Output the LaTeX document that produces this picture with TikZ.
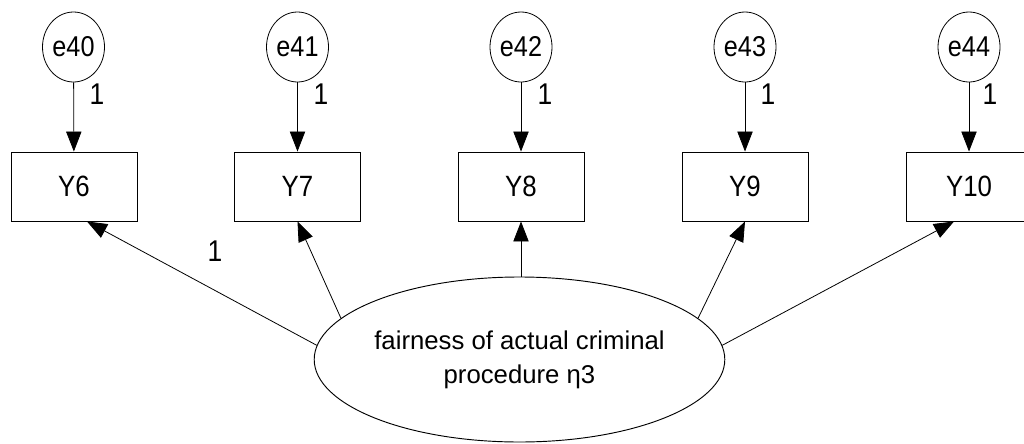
\documentclass[tikz,border=0pt]{standalone}
\usepackage{fontspec}
\setmainfont{Liberation Sans}
\newfontfamily\narrowfont{Liberation Sans}[FakeStretch=0.88]
\usetikzlibrary{shapes.geometric,arrows.meta}
\begin{document}
\begin{tikzpicture}[x=0.75pt,y=-0.75pt,
  obs/.style={draw, line width=0.7pt, minimum width=94.5pt, minimum height=51.75pt, inner sep=0pt, font=\narrowfont\fontsize{22}{24}\selectfont},
  err/.style={draw, ellipse, line width=0.6pt, minimum width=46.5pt, minimum height=52.5pt, inner sep=0pt, font=\narrowfont\fontsize{21.5}{24}\selectfont},
  lat/.style={draw, ellipse, line width=0.7pt, minimum width=300.75pt, minimum height=123.75pt, inner sep=0pt, align=center, font=\fontsize{19.3}{25.5}\selectfont},
  arr/.style={-{Triangle[length=15pt,width=11.5pt]}, line width=0.6pt},
  lab/.style={inner sep=0pt, font=\narrowfont\fontsize{22.5}{24}\selectfont}
]
\useasboundingbox (0,0) rectangle (1024,443);
\clip (0,0) rectangle (1024,443);
% error terms
\node[err] (e40) at (73.5,47) {e40};
\node[err] (e41) at (297.5,47) {e41};
\node[err] (e42) at (521,47) {e42};
\node[err] (e43) at (745,47) {e43};
\node[err] (e44) at (969,47) {e44};
% observed
\node[obs] (Y6) at (74,186.5) {Y6};
\node[obs] (Y7) at (297.5,186.5) {Y7};
\node[obs] (Y8) at (521,186.5) {Y8};
\node[obs] (Y9) at (745,186.5) {Y9};
\node[obs] (Y10) at (969,186.5) {Y10};
% latent
\node[lat] (F) at (519.5,359.5) {fairness of actual criminal\\procedure η3};
% error arrows
\draw[arr] (e40) -- (Y6);
\draw[arr] (e41) -- (Y7);
\draw[arr] (e42) -- (Y8);
\draw[arr] (e43) -- (Y9);
\draw[arr] (e44) -- (Y10);
% loadings
\draw[arr] (F.176) -- ([xshift=9.75pt]Y6.south);
\draw[arr] (F.167) -- (Y7.south);
\draw[arr] (Y8.south |- F.north) -- (Y8.south);
\draw[arr] (F.13) -- (Y9.south);
\draw[arr] (F.4) -- ([xshift=-11.25pt]Y10.south);
% labels
\node[lab] (l40) at (97,94) {1};
\node[lab] (l41) at (321,94) {1};
\node[lab] (l42) at (545,94) {1};
\node[lab] (l43) at (768,94) {1};
\node[lab] (l44) at (990,94) {1};
\node[lab] (l6) at (215,251) {1};
\end{tikzpicture}
\end{document}
